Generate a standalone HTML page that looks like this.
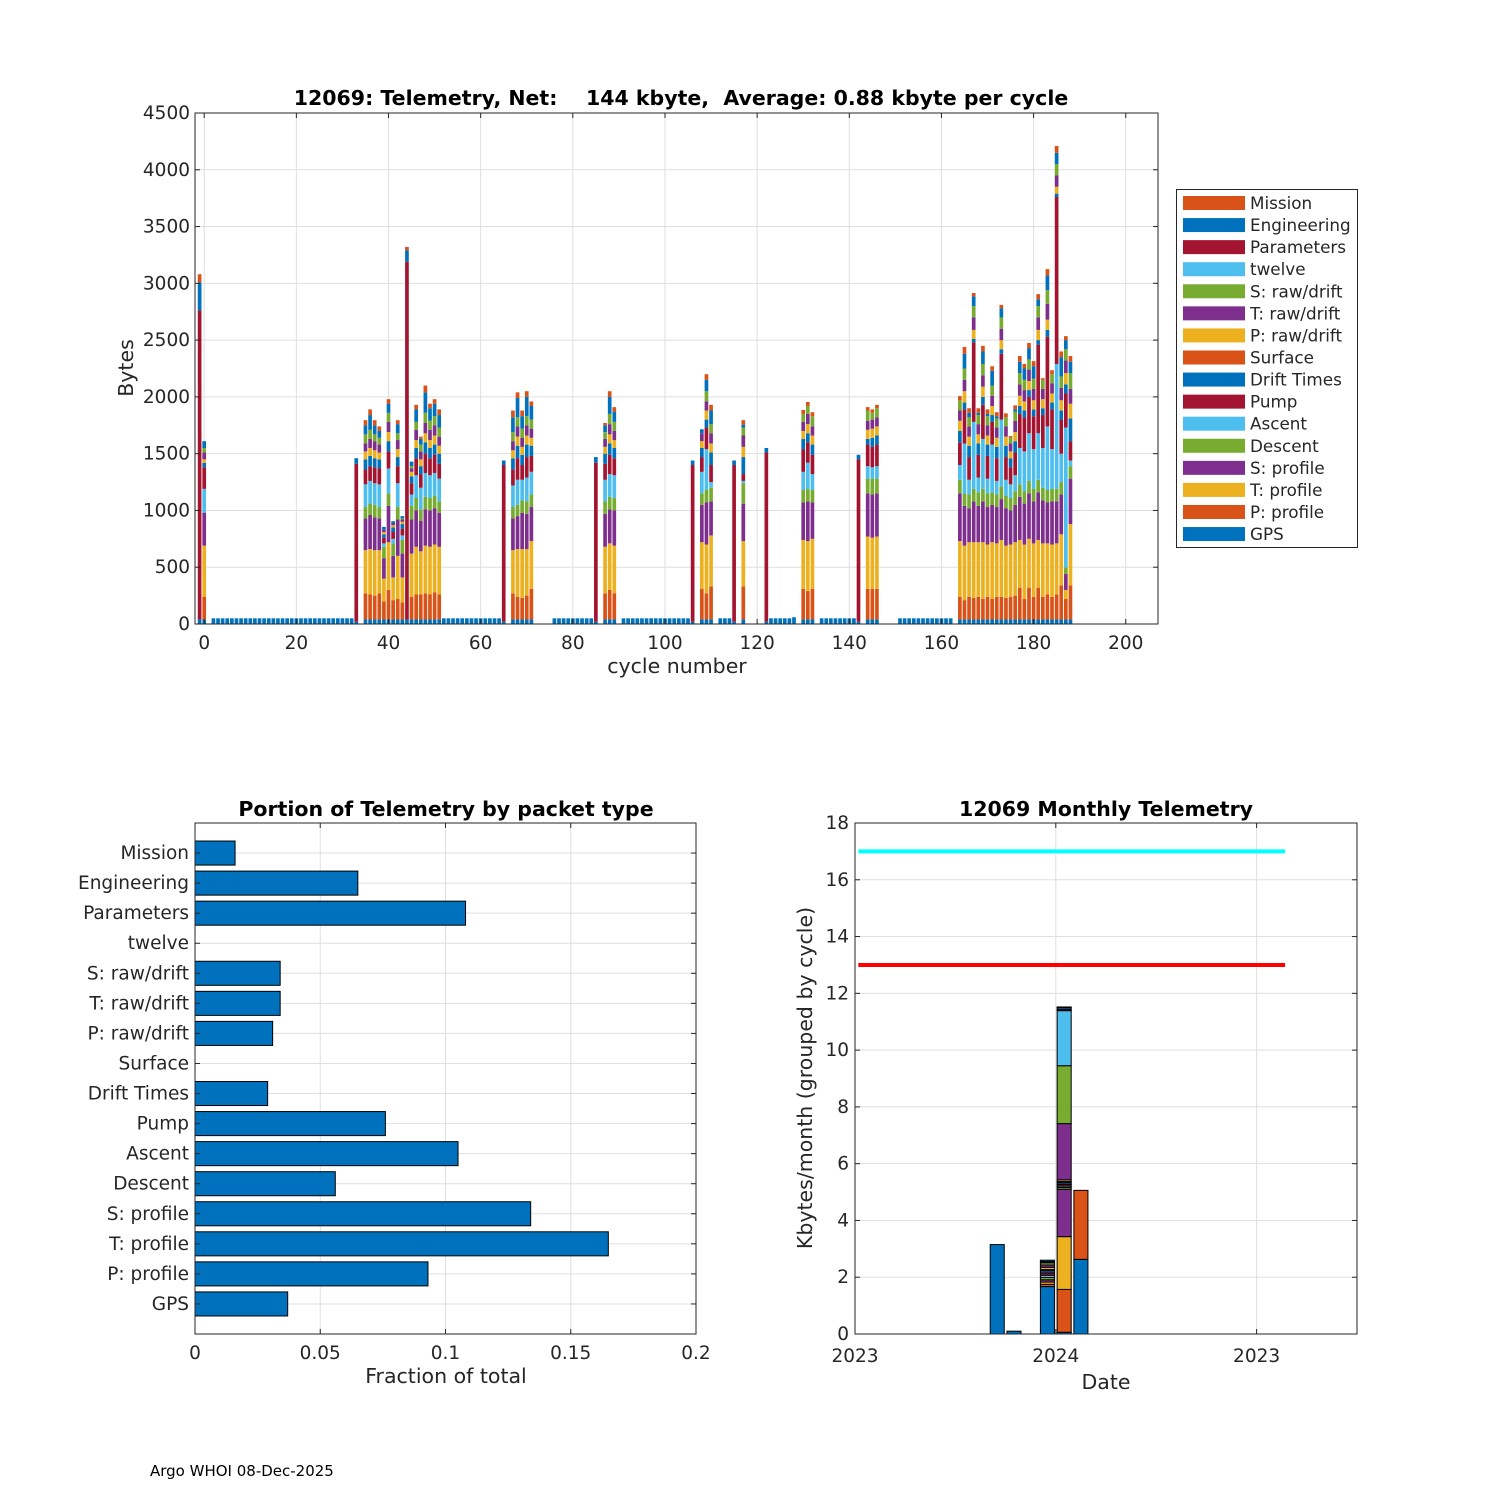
<!DOCTYPE html>
<html><head><meta charset="utf-8"><style>
html,body{margin:0;padding:0;background:#fff}
svg{display:block;font-family:"DejaVu Sans","Liberation Sans",sans-serif}
text{white-space:pre}
</style></head><body>
<svg id="fig" width="1500" height="1500" viewBox="0 0 1500 1500">
<rect x="0" y="0" width="1500" height="1500" fill="#fff"/>
<g id="top"></g>
<g id="bl"></g>
<g id="br"></g>
<text x="150" y="1476" font-size="15">Argo WHOI 08-Dec-2025</text>
</svg>
<script>
// ---------- DATA ----------
const seriesNames = ["GPS","P: profile","T: profile","S: profile","Descent","Ascent","Pump","Drift Times","Surface","P: raw/drift","T: raw/drift","S: raw/drift","twelve","Parameters","Engineering","Mission"];
const seriesColors = ["#0072BD","#D95319","#EDB120","#7E2F8E","#77AC30","#4DBEEE","#A2142F","#0072BD","#D95319","#EDB120","#7E2F8E","#77AC30","#4DBEEE","#A2142F","#0072BD","#D95319"];
const cycleIds = [-1,0,33,35,36,37,38,39,40,41,42,43,44,45,46,47,48,49,50,51,65,67,68,69,70,71,85,87,88,89,106,108,109,110,115,117,122,130,131,132,142,144,145,146,164,165,166,167,168,169,170,171,172,173,174,175,176,177,178,179,180,181,182,183,184,185,186,187,188];
const cycleBytes = [
[40,0,0,0,0,0,0,0,0,0,0,0,0,2720,250,70],
[40,200,450,290,0,210,190,40,0,30,60,40,0,0,60,0],
[20,0,0,0,0,0,0,0,0,0,0,0,0,1390,50,0],
[40,230,380,280,100,200,130,90,0,70,70,80,0,0,80,45],
[40,220,400,300,100,200,130,90,0,70,80,80,0,0,130,50],
[40,210,400,290,110,190,140,80,0,70,80,60,0,0,80,45],
[40,230,380,280,100,200,140,80,0,60,70,60,0,0,60,40],
[40,160,200,180,100,30,50,30,0,20,20,0,0,0,25,0],
[40,260,420,320,110,220,150,90,0,80,90,80,0,0,80,40],
[40,170,200,190,110,40,60,40,0,20,15,0,0,0,20,0],
[40,180,380,320,110,210,150,80,0,70,80,60,0,0,80,35],
[40,150,220,210,120,40,60,40,0,20,20,10,0,0,20,0],
[40,0,0,0,0,0,0,0,0,0,0,0,0,3150,100,30],
[40,200,380,300,120,100,100,60,0,40,30,20,0,0,40,0],
[40,220,420,320,110,200,150,90,0,70,90,70,0,0,110,40],
[40,220,380,270,100,190,120,70,0,60,70,60,0,0,50,20],
[40,230,420,320,110,210,170,100,0,80,90,90,0,0,180,60],
[40,220,420,320,110,200,150,90,0,70,90,80,0,0,110,40],
[40,240,420,320,110,200,160,90,0,80,90,80,0,0,110,40],
[40,220,420,300,100,200,130,90,0,70,80,80,0,0,110,50],
[20,0,0,0,0,0,0,0,0,0,0,0,0,1380,40,0],
[40,230,380,280,100,190,140,100,0,70,80,80,0,0,130,60],
[40,200,420,290,100,220,190,110,0,80,90,80,0,0,170,50],
[40,190,430,320,110,180,130,90,0,70,80,80,0,0,110,50],
[40,210,410,310,110,210,180,110,0,80,90,80,0,0,170,50],
[40,270,420,300,110,200,140,90,0,70,80,80,0,0,120,40],
[20,0,0,0,0,0,0,0,0,0,0,0,0,1400,50,0],
[40,230,410,290,110,190,140,90,0,60,70,60,0,0,60,20],
[40,260,410,300,110,200,170,100,0,80,90,90,0,0,150,50],
[40,230,420,310,110,200,150,90,0,70,80,80,0,0,90,40],
[20,0,0,0,0,0,0,0,0,0,0,0,0,1380,40,0],
[40,270,410,330,100,190,130,80,0,60,70,0,0,0,35,0],
[40,230,430,370,110,360,190,70,0,80,80,90,0,0,100,50],
[40,290,450,300,120,50,150,110,0,80,90,80,0,0,120,50],
[20,0,0,0,0,0,0,0,0,0,0,0,0,1380,40,0],
[40,290,400,330,180,20,60,150,0,90,100,70,0,0,25,40],
[20,0,0,0,0,0,0,0,0,0,0,0,0,1490,40,0],
[40,270,430,330,110,160,200,90,0,70,80,70,0,0,0,35],
[40,250,440,350,110,230,180,80,0,80,90,70,0,0,0,35],
[40,270,440,320,110,140,170,90,0,80,80,90,0,0,0,35],
[20,0,0,0,0,0,0,0,0,0,0,0,0,1430,40,0],
[40,270,460,380,130,110,190,50,0,80,80,90,0,0,0,30],
[40,270,450,380,140,100,180,80,0,80,80,60,0,0,0,30],
[40,270,460,380,130,110,190,80,0,80,80,80,0,0,0,30],
[40,200,490,420,120,130,200,100,0,90,90,90,0,0,0,37],
[40,170,480,350,110,440,300,60,0,100,100,100,0,0,130,60],
[40,200,480,300,120,130,200,100,0,80,90,80,0,0,40,40],
[40,190,490,360,110,590,700,30,0,80,110,100,0,0,85,30],
[40,200,480,320,120,130,200,100,0,80,90,80,0,0,20,40],
[40,180,500,360,110,440,300,70,0,90,100,100,0,0,110,50],
[40,200,460,330,120,130,200,100,0,80,90,80,0,0,20,40],
[40,180,500,330,110,420,200,60,0,80,90,90,0,0,130,40],
[40,200,470,320,110,120,200,100,0,80,90,80,0,0,20,35],
[40,200,500,360,110,590,580,40,0,80,100,100,0,0,80,30],
[40,190,460,330,110,140,200,100,0,80,90,80,0,0,0,35],
[40,200,460,300,110,120,150,80,0,60,70,50,0,0,0,15],
[40,210,470,330,120,140,200,100,0,80,100,80,0,0,20,35],
[40,280,420,380,110,320,300,70,0,90,100,100,0,0,100,50],
[40,180,480,360,110,350,300,60,0,80,100,90,0,0,100,40],
[40,280,430,400,110,420,320,60,0,80,100,90,0,0,100,45],
[40,200,470,370,110,350,290,60,0,80,100,90,0,0,110,45],
[40,280,420,420,110,410,780,40,0,90,110,100,0,0,60,45],
[40,200,470,380,110,350,290,60,0,80,90,80,0,0,0,15],
[40,220,450,360,110,560,790,60,0,90,140,120,0,0,130,55],
[40,200,460,380,110,350,350,60,0,80,90,80,0,0,0,35],
[40,220,450,370,110,1100,1470,30,0,60,100,100,0,0,100,60],
[40,300,450,350,110,250,300,80,0,90,110,100,0,0,170,50],
[40,180,80,140,60,1230,300,80,0,100,110,100,0,0,80,35],
[40,300,540,400,110,50,170,200,0,130,130,140,0,0,100,50]
];
const gpsOnlyCycles = [2,3,4,5,6,7,8,9,10,11,12,13,14,15,16,17,18,19,20,21,22,23,24,25,26,27,28,29,30,31,32,52,53,54,55,56,57,58,59,60,61,62,63,64,76,77,78,79,80,81,82,83,84,91,92,93,94,95,96,97,98,99,100,101,102,103,104,105,112,113,114,123,124,125,126,127,128,134,135,136,137,138,139,140,141,151,152,153,154,155,156,157,158,159,160,161,162];
const gpsOnlyBytes = [50,50,50,50,50,50,50,50,50,50,50,50,50,50,50,50,50,50,50,50,50,50,50,50,50,50,50,50,50,50,50,50,50,50,50,50,50,50,50,50,50,50,50,50,50,50,50,50,50,50,50,50,50,50,50,50,50,50,50,50,50,50,50,50,50,50,50,50,50,50,50,50,50,50,50,50,60,50,50,50,50,50,50,50,50,50,50,50,50,50,50,50,50,50,50,50,50];
const topYTicks = [0,500,1000,1500,2000,2500,3000,3500,4000,4500];
const topXTicks = [0,20,40,60,80,100,120,140,160,180,200];

const fracCategories = ["GPS","P: profile","T: profile","S: profile","Descent","Ascent","Pump","Drift Times","Surface","P: raw/drift","T: raw/drift","S: raw/drift","twelve","Parameters","Engineering","Mission"];
const fracValues = [0.037,0.093,0.165,0.134,0.056,0.105,0.076,0.029,0,0.031,0.034,0.034,0,0.108,0.065,0.016];
const fracXTicks = [0,0.05,0.1,0.15,0.2];
const fracXTickLabels = ["0","0.05","0.1","0.15","0.2"];

const monthIndex = [8.5,9.5,11.5,12.5,13.5];
const monthKbytes = [
[3.15,0,0,0,0,0,0,0,0,0,0,0,0,0,0,0],
[0.1,0,0,0,0,0,0,0,0,0,0,0,0,0,0,0],
[1.67,0.08,0.08,0.08,0.08,0.08,0.08,0.08,0.04,0.08,0.08,0.08,0,0.04,0.05,0],
[0.06,1.51,1.86,1.67,0.06,0.05,0.06,0.06,0.04,0.06,1.98,2.04,1.94,0.05,0.06,0.02],
[2.63,2.43,0,0,0,0,0,0,0,0,0,0,0,0,0,0]
];
const monthYTicks = [0,2,4,6,8,10,12,14,16,18];
const monthXTicks = [0,12,24];
const monthXTickLabels = ["2023","2024","2023"];
const limitLevels = [17,13];
const limitColors = ["#00FFFF","#FF0000"];
const limitStart = [0.2,0.2];
const limitEnd = [25.7,25.7];

// ---------- helpers ----------
const NS="http://www.w3.org/2000/svg";
function mk(tag,parent,attrs){const e=document.createElementNS(NS,tag);for(const k in attrs)e.setAttribute(k,attrs[k]);parent.appendChild(e);return e;}
const GRID="#dfdfdf";
const TF=18.5, AF=20.5;

// ---------- TOP CHART ----------
(function(){
const g=document.getElementById('top');
const X0=195,X1=1158,Y0=113,Y1=624,xmin=-2,xmax=207,ymax=4500;
const xS=c=>X0+(c-xmin)/(xmax-xmin)*(X1-X0);
const yS=v=>Y1-v/ymax*(Y1-Y0);
const bw=0.8*(X1-X0)/(xmax-xmin);
topYTicks.forEach(t=>{const l=mk('line',g,{x1:X0,x2:X1,y1:yS(t),y2:yS(t),stroke:GRID,'stroke-width':1});

});
topXTicks.forEach(t=>{const l=mk('line',g,{x1:xS(t),x2:xS(t),y1:Y0,y2:Y1,stroke:GRID,'stroke-width':1});

});
const bars=mk('g',g,{});


gpsOnlyCycles.forEach((c,i)=>{const r=mk('rect',bars,{x:xS(c)-bw/2,y:yS(gpsOnlyBytes[i]),width:bw,height:yS(0)-yS(gpsOnlyBytes[i]),fill:seriesColors[0]});

});
cycleIds.forEach((c,i)=>{let acc=0;cycleBytes[i].forEach((v,s)=>{if(v<=0)return;
const r=mk('rect',bars,{x:xS(c)-bw/2,y:yS(acc+v),width:bw,height:yS(acc)-yS(acc+v),fill:seriesColors[s]});


acc+=v;});});
const box=mk('rect',g,{x:X0,y:Y0,width:X1-X0,height:Y1-Y0,fill:'none',stroke:'#262626','stroke-width':1});


topYTicks.forEach(t=>{mk('line',g,{x1:X0,x2:X0+5,y1:yS(t),y2:yS(t),stroke:'#262626'});mk('line',g,{x1:X1,x2:X1-5,y1:yS(t),y2:yS(t),stroke:'#262626'});
const tx=mk('text',g,{x:X0-5,y:yS(t)+6,'font-size':TF,'text-anchor':'end',fill:'#262626'});tx.textContent=t;

});
topXTicks.forEach(t=>{mk('line',g,{x1:xS(t),x2:xS(t),y1:Y1,y2:Y1-5,stroke:'#262626'});mk('line',g,{x1:xS(t),x2:xS(t),y1:Y0,y2:Y0+5,stroke:'#262626'});
const tx=mk('text',g,{x:xS(t),y:Y1+25,'font-size':TF,'text-anchor':'middle',fill:'#262626'});tx.textContent=t;

});
const tt=mk('text',g,{x:681,y:105,'font-size':20.5,'font-weight':'bold','text-anchor':'middle'});tt.textContent="12069: Telemetry, Net:    144 kbyte,  Average: 0.88 kbyte per cycle";


const xl=mk('text',g,{x:677,y:673,'font-size':AF,'text-anchor':'middle',fill:'#262626'});xl.textContent="cycle number";


const yl=mk('text',g,{x:0,y:0,'font-size':AF,'text-anchor':'middle',fill:'#262626',transform:'translate(133,368) rotate(-90)'});yl.textContent="Bytes";


// legend
const lg=mk('g',g,{});


mk('rect',lg,{x:1176.5,y:189.5,width:181,height:358,fill:'#fff',stroke:'#262626'});
for(let k=0;k<16;k++){const s=15-k;const y=203+k*22.07;
const it=mk('g',lg,{});


mk('rect',it,{x:1183,y:y-7,width:62,height:14,fill:seriesColors[s]});
const tx=mk('text',it,{x:1250,y:y+6,'font-size':16.8,fill:'#262626'});tx.textContent=seriesNames[s];}
})();

// ---------- BOTTOM LEFT ----------
(function(){
const g=document.getElementById('bl');
const X0=195,X1=696,Y0=823,Y1=1334,xmax=0.2,ymax=17;
const xS=v=>X0+v/xmax*(X1-X0);
const yS=p=>Y1-p/ymax*(Y1-Y0);
fracXTicks.forEach(t=>{const l=mk('line',g,{x1:xS(t),x2:xS(t),y1:Y0,y2:Y1,stroke:GRID});

});
fracCategories.forEach((c,i)=>{const l=mk('line',g,{x1:X0,x2:X1,y1:yS(i+1),y2:yS(i+1),stroke:GRID});

});
const bh=0.8*(Y1-Y0)/ymax;
fracCategories.forEach((c,i)=>{const v=fracValues[i];
if(v>0){const r=mk('rect',g,{x:X0,y:yS(i+1)-bh/2,width:xS(v)-X0,height:bh,fill:'#0072BD',stroke:'#000','stroke-width':1});

}
mk('line',g,{x1:X0,x2:X0+5,y1:yS(i+1),y2:yS(i+1),stroke:'#262626'});mk('line',g,{x1:X1,x2:X1-5,y1:yS(i+1),y2:yS(i+1),stroke:'#262626'});
const tx=mk('text',g,{x:X0-6,y:yS(i+1)+6,'font-size':TF,'text-anchor':'end',fill:'#262626'});tx.textContent=c;

});
const box=mk('rect',g,{x:X0,y:Y0,width:X1-X0,height:Y1-Y0,fill:'none',stroke:'#262626'});


fracXTicks.forEach((t,i)=>{mk('line',g,{x1:xS(t),x2:xS(t),y1:Y1,y2:Y1-5,stroke:'#262626'});mk('line',g,{x1:xS(t),x2:xS(t),y1:Y0,y2:Y0+5,stroke:'#262626'});
const tx=mk('text',g,{x:xS(t),y:Y1+25,'font-size':TF,'text-anchor':'middle',fill:'#262626'});tx.textContent=fracXTickLabels[i];

});
const tt=mk('text',g,{x:446,y:816,'font-size':20.5,'font-weight':'bold','text-anchor':'middle'});tt.textContent="Portion of Telemetry by packet type";


const xl=mk('text',g,{x:446,y:1383,'font-size':AF,'text-anchor':'middle',fill:'#262626'});xl.textContent="Fraction of total";


})();

// ---------- BOTTOM RIGHT ----------
(function(){
const g=document.getElementById('br');
const X0=855,X1=1357,Y0=823,Y1=1334,xmax=30,ymax=18;
const xS=m=>X0+m/xmax*(X1-X0);
const yS=v=>Y1-v/ymax*(Y1-Y0);
monthYTicks.forEach(t=>{const l=mk('line',g,{x1:X0,x2:X1,y1:yS(t),y2:yS(t),stroke:GRID});

});
monthXTicks.forEach(t=>{const l=mk('line',g,{x1:xS(t),x2:xS(t),y1:Y0,y2:Y1,stroke:GRID});

});
const bw=0.84*(X1-X0)/xmax;
monthIndex.forEach((m,i)=>{let acc=0;monthKbytes[i].forEach((v,s)=>{if(v<=0)return;
const r=mk('rect',g,{x:xS(m)-bw/2,y:yS(acc+v),width:bw,height:yS(acc)-yS(acc+v),fill:seriesColors[s],stroke:'#000','stroke-width':1});


acc+=v;});});
limitLevels.forEach((v,i)=>{const l=mk('line',g,{x1:xS(limitStart[i]),x2:xS(limitEnd[i]),y1:yS(v),y2:yS(v),stroke:limitColors[i],'stroke-width':4});

});
const box=mk('rect',g,{x:X0,y:Y0,width:X1-X0,height:Y1-Y0,fill:'none',stroke:'#262626'});


monthYTicks.forEach(t=>{mk('line',g,{x1:X0,x2:X0+5,y1:yS(t),y2:yS(t),stroke:'#262626'});mk('line',g,{x1:X1,x2:X1-5,y1:yS(t),y2:yS(t),stroke:'#262626'});
const tx=mk('text',g,{x:X0-6,y:yS(t)+6,'font-size':TF,'text-anchor':'end',fill:'#262626'});tx.textContent=t;

});
monthXTicks.forEach((t,i)=>{mk('line',g,{x1:xS(t),x2:xS(t),y1:Y1,y2:Y1-5,stroke:'#262626'});mk('line',g,{x1:xS(t),x2:xS(t),y1:Y0,y2:Y0+5,stroke:'#262626'});
const tx=mk('text',g,{x:xS(t),y:Y1+28,'font-size':TF,'text-anchor':'middle',fill:'#262626'});tx.textContent=monthXTickLabels[i];

});
const tt=mk('text',g,{x:1106,y:816,'font-size':20.5,'font-weight':'bold','text-anchor':'middle'});tt.textContent="12069 Monthly Telemetry";


const xl=mk('text',g,{x:1106,y:1389,'font-size':AF,'text-anchor':'middle',fill:'#262626'});xl.textContent="Date";


const yl=mk('text',g,{x:0,y:0,'font-size':AF,'text-anchor':'middle',fill:'#262626',transform:'translate(812,1078) rotate(-90)'});yl.textContent="Kbytes/month (grouped by cycle)";


})();
</script>
</body></html>
